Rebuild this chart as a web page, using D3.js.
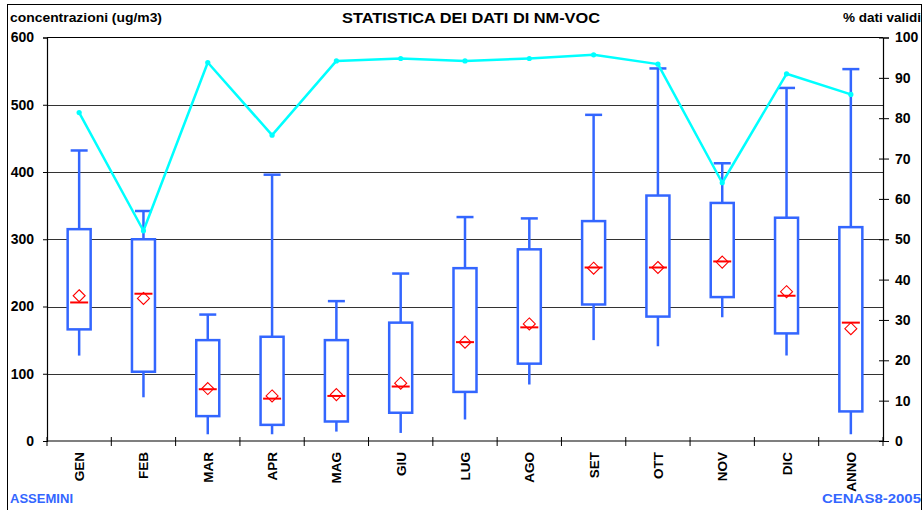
<!DOCTYPE html>
<html>
<head>
<meta charset="utf-8">
<script src="https://cdn.jsdelivr.net/npm/d3@7"></script>
<style>
  body { margin: 0; background: #fff; }
  svg { display: block; font-family: "Liberation Sans", Arial, sans-serif; }
</style>
</head>
<body>
<div id="chart"></div>
<script>
// monthly NM-VOC statistics (ug/m3) and % valid data
const categories = ["GEN", "FEB", "MAR", "APR", "MAG", "GIU", "LUG", "AGO", "SET", "OTT", "NOV", "DIC", "ANNO"];
const whiskerHigh = [432, 342, 188, 396, 208, 249, 333, 331, 485, 554, 413, 525, 553];
const q3 = [315, 300, 150, 155, 150, 176, 257, 285, 327, 365, 354, 332, 318];
const median = [206, 219, 77, 63, 67, 81, 147, 169, 258, 258, 267, 216, 176];
const mean = [216, 212, 78, 67, 69, 86, 147, 174, 257, 258, 266, 222, 167];
const q1 = [166, 103, 37, 24, 29, 42, 73, 115, 203, 185, 214, 160, 44];
const whiskerLow = [127, 65, 10, 10, 14, 12, 32, 84, 150, 141, 184, 127, 10];
const pctValid = [81.4, 52.1, 93.8, 75.8, 94.2, 94.8, 94.2, 94.8, 95.7, 93.4, 64.0, 91.0, 85.9];
const leftTicks = [0, 100, 200, 300, 400, 500, 600];
const rightTicks = [0, 10, 20, 30, 40, 50, 60, 70, 80, 90, 100];

const W = 924, H = 510;
const plot = { left: 47, right: 883, top: 37.5, bottom: 441 };
const blue = "#3366ff";

const svg = d3.select("#chart").append("svg")
  .attr("width", W).attr("height", H);

// outer frame
svg.append("rect")
  .attr("x", 7.5).attr("y", 4.5)
  .attr("width", 914).attr("height", 520)
  .attr("fill", "none").attr("stroke", "#000").attr("stroke-width", 1);

const x = d3.scaleBand().domain(categories).range([plot.left, plot.right]);
const y = d3.scaleLinear().domain([0, 600]).range([plot.bottom, plot.top]);
const yPct = d3.scaleLinear().domain([0, 100]).range([plot.bottom, plot.top]);

// gridlines
svg.append("g")
  .selectAll("line")
  .data(leftTicks.filter(d => d > 0 && d < 600))
  .join("line")
  .attr("x1", plot.left).attr("x2", plot.right)
  .attr("y1", d => Math.round(y(d)) + 0.5).attr("y2", d => Math.round(y(d)) + 0.5)
  .attr("stroke", "#333").attr("stroke-width", 1);

// top frame line
svg.append("line")
  .attr("x1", plot.left).attr("x2", plot.right)
  .attr("y1", plot.top).attr("y2", plot.top)
  .attr("stroke", "#000");

// left axis
const gL = svg.append("g")
  .attr("transform", `translate(${plot.left},0)`)
  .call(d3.axisLeft(y).tickValues(leftTicks).tickSize(4).tickPadding(9));
gL.select(".domain").attr("stroke", "#000").attr("stroke-width", 1.2);
gL.selectAll("text")
  .attr("font-size", 14).attr("font-weight", "bold")
  .attr("font-family", "Liberation Sans, Arial, sans-serif").attr("fill", "#000");

// right axis (cross ticks)
const gR = svg.append("g")
  .attr("transform", `translate(${plot.right},0)`)
  .call(d3.axisRight(yPct).tickValues(rightTicks).tickSize(6).tickPadding(6));
gR.select(".domain").attr("stroke", "#000").attr("stroke-width", 1.2);
gR.selectAll(".tick line").attr("x1", -4);
gR.selectAll("text")
  .attr("font-size", 14).attr("font-weight", "bold")
  .attr("font-family", "Liberation Sans, Arial, sans-serif").attr("fill", "#000");

// bottom axis
svg.append("line")
  .attr("x1", plot.left).attr("x2", plot.right)
  .attr("y1", plot.bottom).attr("y2", plot.bottom)
  .attr("stroke", "#000").attr("stroke-width", 1.2);
svg.append("g")
  .selectAll("line")
  .data(d3.range(categories.length + 1))
  .join("line")
  .attr("x1", i => plot.left + i * x.step()).attr("x2", i => plot.left + i * x.step())
  .attr("y1", plot.bottom - 4).attr("y2", plot.bottom + 5)
  .attr("stroke", "#000");

svg.append("g")
  .selectAll("text")
  .data(categories)
  .join("text")
  .attr("transform", d => `translate(${x(d) + x.bandwidth() / 2 + 5},452) rotate(-90)`)
  .attr("text-anchor", "end")
  .attr("font-size", 13.5).attr("font-weight", "bold")
  .text(d => d);

// boxes
const rows = categories.map((c, i) => ({
  c, hi: whiskerHigh[i], q3: q3[i], med: median[i], mean: mean[i], q1: q1[i], lo: whiskerLow[i]
}));
const boxW = 23, capW = 17, medW = 18, dia = 6;

const boxes = svg.append("g").selectAll("g")
  .data(rows)
  .join("g")
  .attr("transform", d => `translate(${x(d.c) + x.bandwidth() / 2},0)`);

boxes.append("line")
  .attr("y1", d => y(d.hi)).attr("y2", d => y(d.lo))
  .attr("stroke", blue).attr("stroke-width", 2.5);
boxes.append("line")
  .attr("x1", -capW / 2).attr("x2", capW / 2)
  .attr("y1", d => y(d.hi)).attr("y2", d => y(d.hi))
  .attr("stroke", blue).attr("stroke-width", 2.5);
boxes.append("rect")
  .attr("x", -boxW / 2).attr("width", boxW)
  .attr("y", d => y(d.q3)).attr("height", d => y(d.q1) - y(d.q3))
  .attr("fill", "#fff").attr("stroke", blue).attr("stroke-width", 2.5);
boxes.append("line")
  .attr("x1", -medW / 2).attr("x2", medW / 2)
  .attr("y1", d => y(d.med)).attr("y2", d => y(d.med))
  .attr("stroke", "#ff0000").attr("stroke-width", 2);
boxes.append("path")
  .attr("d", d => {
    const cy = y(d.mean);
    return `M0,${cy - dia}L${dia},${cy}L0,${cy + dia}L${-dia},${cy}Z`;
  })
  .attr("fill", "none").attr("stroke", "#ff0000").attr("stroke-width", 1.1);

// % valid data line
const line = d3.line()
  .x((d, i) => x(categories[i]) + x.bandwidth() / 2)
  .y(d => yPct(d));
svg.append("path")
  .datum(pctValid)
  .attr("d", line)
  .attr("fill", "none").attr("stroke", "#00ffff").attr("stroke-width", 2.5)
  .attr("stroke-linejoin", "round");
svg.append("g").selectAll("circle")
  .data(pctValid)
  .join("circle")
  .attr("cx", (d, i) => x(categories[i]) + x.bandwidth() / 2)
  .attr("cy", d => yPct(d))
  .attr("r", 2.6).attr("fill", "#00ffff");

// header texts
svg.append("text")
  .attr("x", 10).attr("y", 22)
  .attr("font-size", 13).attr("font-weight", "bold")
  .attr("textLength", 152).attr("lengthAdjust", "spacingAndGlyphs")
  .text("concentrazioni (ug/m3)");
svg.append("text")
  .attr("x", 342).attr("y", 23)
  .attr("font-size", 14).attr("font-weight", "bold")
  .attr("textLength", 258).attr("lengthAdjust", "spacingAndGlyphs")
  .text("STATISTICA DEI DATI DI NM-VOC");
svg.append("text")
  .attr("x", 843).attr("y", 22)
  .attr("font-size", 13).attr("font-weight", "bold")
  .attr("textLength", 78).attr("lengthAdjust", "spacingAndGlyphs")
  .text("% dati validi");

// footer
svg.append("text")
  .attr("x", 10).attr("y", 503)
  .attr("font-size", 13).attr("font-weight", "bold").attr("fill", blue)
  .attr("textLength", 63).attr("lengthAdjust", "spacingAndGlyphs")
  .text("ASSEMINI");
svg.append("text")
  .attr("x", 822).attr("y", 503)
  .attr("font-size", 13).attr("font-weight", "bold").attr("fill", blue)
  .attr("textLength", 99).attr("lengthAdjust", "spacingAndGlyphs")
  .text("CENAS8-2005");
</script>
</body>
</html>
